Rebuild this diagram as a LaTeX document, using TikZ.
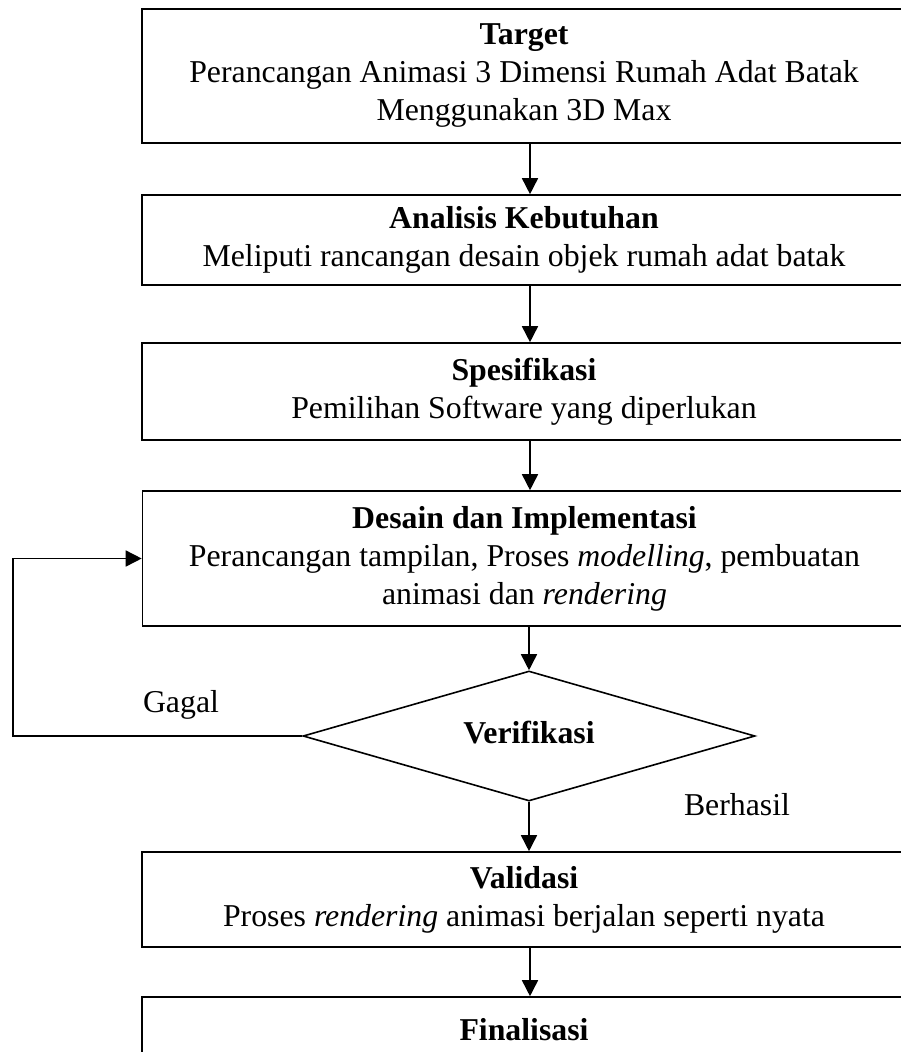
\documentclass[tikz,border=0pt]{standalone}
\usepackage{fontspec}
\setmainfont{Liberation Serif}
\usetikzlibrary{arrows.meta,shapes.geometric}
\begin{document}
\begin{tikzpicture}[x=1pt,y=-1pt,
  txt/.style={font=\fontsize{31.8}{38}\selectfont},
  box/.style={txt,draw,line width=1.6pt,rectangle,minimum width=764pt,align=center,inner sep=0pt},
  arr/.style={line width=1.6pt,-{Triangle[length=16pt,width=16pt]}}]
\useasboundingbox[fill=white] (0,0) rectangle (900,1052);
\coordinate (ax) at (530,0);
\coordinate (fb) at (13,0);
\node[box,minimum height=134pt] (b1) at (524,76) {\textbf{Target}\\Perancangan Animasi 3 Dimensi Rumah Adat Batak\\Menggunakan 3D Max};
\node[box,minimum height=90pt] (b2) at (524,240) {\textbf{Analisis Kebutuhan}\\Meliputi rancangan desain objek rumah adat batak};
\node[box,minimum height=97pt] (b3) at (524,391.5) {\textbf{Spesifikasi}\\Pemilihan Software yang diperlukan};
\node[box,minimum height=135pt] (b4) at (524.5,558.5) {\textbf{Desain dan Implementasi}\\Perancangan tampilan, Proses \textit{modelling}, pembuatan\\animasi dan \textit{rendering}};
\node[txt,draw,diamond,line width=1.6pt,minimum width=452pt,minimum height=130pt,inner sep=0pt,aspect=3.48] (d) at (529,736) {\raisebox{8pt}{\textbf{Verifikasi}}};
\node[box,minimum height=95pt] (b5) at (524,899.5) {\textbf{Validasi}\\Proses \textit{rendering} animasi berjalan seperti nyata};
\node[box,minimum height=66pt] (b6) at (524,1030) {\textbf{Finalisasi}};
\node[txt] (gagal) at (181,705) {Gagal};
\node[txt] (berhasil) at (737,805) {Berhasil};
\draw[arr] (b1.south -| ax) -- (b2.north -| ax);
\draw[arr] (b2.south -| ax) -- (b3.north -| ax);
\draw[arr] (b3.south -| ax) -- (b4.north -| ax);
\draw[arr] (b4.south -| d.north) -- (d.north);
\draw[arr] (d.south) -- (b5.north -| d.south);
\draw[arr] (b5.south -| ax) -- (b6.north -| ax);
\draw[arr] (d.west) -- (d.west -| fb) |- (b4.west);
\end{tikzpicture}
\end{document}
